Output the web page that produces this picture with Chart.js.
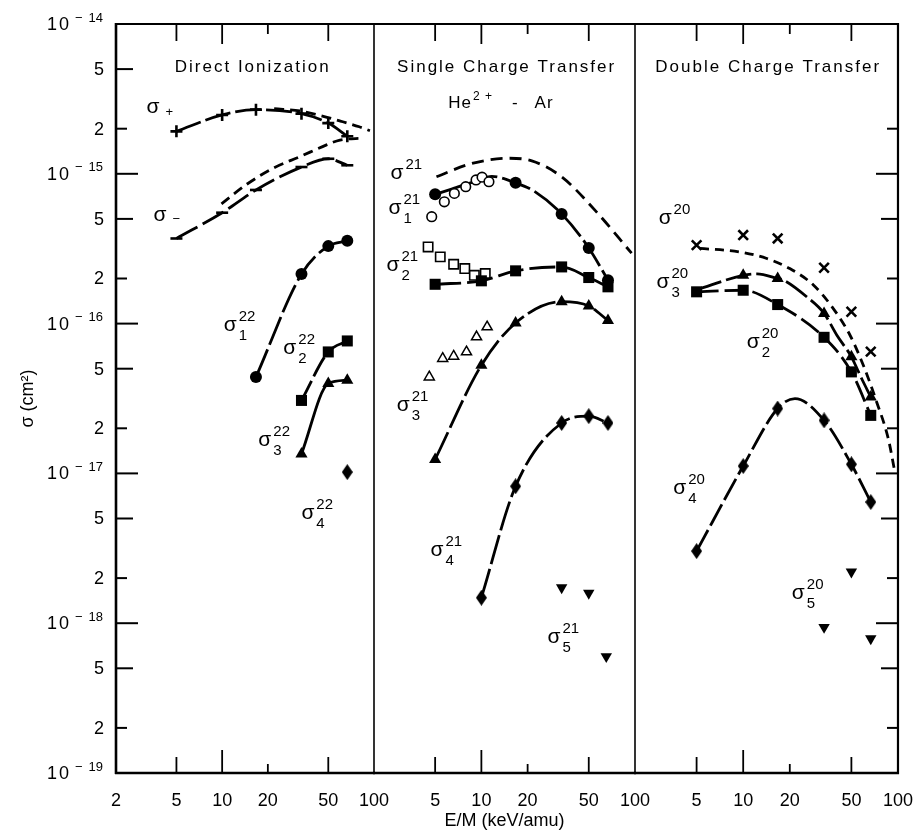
<!DOCTYPE html>
<html><head><meta charset="utf-8">
<script src="https://cdn.jsdelivr.net/npm/chart.js@4.4.1/dist/chart.umd.min.js"></script>
<style>
html,body{margin:0;padding:0;background:#fff;}
#wrap{position:relative;width:922px;height:831px;overflow:hidden;background:#fff;}
canvas{position:absolute;left:0;top:0;}
</style></head><body>
<div id="wrap">
<canvas id="p1" width="922" height="831"></canvas>
<canvas id="p2" width="922" height="831"></canvas>
<canvas id="p3" width="922" height="831"></canvas>
</div>
<script>
// ================= DATA =================
const xTicksPanel1 = [2, 5, 10, 20, 50, 100];
const xTicksPanel23 = [5, 10, 20, 50, 100];
const xTickMarkValues = [5, 10, 20, 50];
const yTickValues = [1e-19,2e-19,5e-19,1e-18,2e-18,5e-18,1e-17,2e-17,5e-17,1e-16,2e-16,5e-16,1e-15,2e-15,5e-15,1e-14];
const yTickLabels = ['10^-19','2','5','10^-18','2','5','10^-17','2','5','10^-16','2','5','10^-15','2','5','10^-14'];
const panelTitles = ['Direct Ionization', 'Single Charge Transfer', 'Double Charge Transfer'];

const energies = [5, 10, 16.7, 33.3, 50, 66.7];

// Panel 1 : direct ionization
const sigmaPlus = [1.92e-15, 2.47e-15, 2.68e-15, 2.52e-15, 2.18e-15, 1.78e-15];
const sigmaPlusTheoryE = [22, 33, 45, 60, 80, 94];
const sigmaPlusTheory = [2.72e-15, 2.62e-15, 2.44e-15, 2.25e-15, 2.06e-15, 1.94e-15];
const sigmaMinus = [3.7e-16, 5.5e-16, 7.8e-16, 1.11e-15, 1.26e-15, 1.14e-15];
const sigmaMinusTheoryE = [9.9, 14.5, 21.7, 32.5, 48.7, 59.7, 85];
const sigmaMinusTheory = [6.3e-16, 8.5e-16, 1.09e-15, 1.3e-15, 1.56e-15, 1.68e-15, 1.73e-15];
const s22E1 = [16.7, 33.3, 50, 66.7];
const s22_1 = [4.4e-17, 2.14e-16, 3.29e-16, 3.57e-16];
const s22E23 = [33.3, 50, 66.7];
const s22_2 = [3.07e-17, 6.47e-17, 7.66e-17];
const s22_3 = [1.35e-17, 3.98e-17, 4.19e-17];
const s22E4 = [66.7];
const s22_4 = [1.02e-17];

// Panel 2 : single charge transfer
const s21TotalE = [5.1, 8.6, 15, 21.3, 33.3, 55, 95];
const s21Total = [9.55e-16, 1.17e-15, 1.27e-15, 1.22e-15, 9.55e-16, 5.7e-16, 2.95e-16];
const s21E1 = [5, 16.7, 33.3, 50, 66.7];
const s21_1 = [7.3e-16, 8.7e-16, 5.4e-16, 3.2e-16, 1.95e-16];
const s21CurveE1 = [5, 6.4, 9.1, 11.7, 16.7, 22.3, 33.3, 50, 66.7];
const s21Curve1 = [7.3e-16, 7.9e-16, 8.9e-16, 9.6e-16, 8.7e-16, 7.6e-16, 5.4e-16, 3.2e-16, 1.95e-16];
const s21OpenE1 = [4.75, 5.74, 6.67, 7.91, 9.23, 10.1, 11.2];
const s21Open1 = [5.17e-16, 6.5e-16, 7.4e-16, 8.2e-16, 9.1e-16, 9.5e-16, 8.85e-16];
const s21_2 = [1.83e-16, 1.93e-16, 2.25e-16, 2.39e-16, 2.03e-16, 1.76e-16];
const s21OpenE2 = [4.5, 5.4, 6.6, 7.8, 9.0, 10.6];
const s21Open2 = [3.25e-16, 2.79e-16, 2.49e-16, 2.33e-16, 2.1e-16, 2.16e-16];
const s21_3 = [1.24e-17, 5.27e-17, 1.01e-16, 1.40e-16, 1.31e-16, 1.05e-16];
const s21OpenE3 = [4.58, 5.6, 6.6, 8.0, 9.3, 10.9];
const s21Open3 = [4.4e-17, 5.85e-17, 6.05e-17, 6.47e-17, 8.15e-17, 9.5e-17];
const s21E4 = [10, 16.7, 33.3, 50, 66.7];
const s21_4 = [1.48e-18, 8.2e-18, 2.17e-17, 2.41e-17, 2.17e-17];
const s21E5 = [33.3, 50, 65];
const s21_5 = [1.73e-18, 1.59e-18, 6.0e-19];

// Panel 3 : double charge transfer
const s20Total = [3.34e-16, 3.9e-16, 3.7e-16, 2.36e-16, 1.2e-16, 6.5e-17];
const s20TotalCurveE = [5.26, 9.5, 14.2, 20, 28.4, 38.2, 49, 59.7, 72.8, 86.5, 95.5];
const s20TotalCurve = [3.18e-16, 3.01e-16, 2.72e-16, 2.33e-16, 1.81e-16, 1.26e-16, 8.36e-17, 5.27e-17, 3.0e-17, 1.71e-17, 1.02e-17];
const s20E3 = [10, 16.7, 33.3, 50, 66.7];
const s20_3 = [2.1e-16, 2.0e-16, 1.17e-16, 6.0e-17, 3.24e-17];
const s20CurveE3 = [5, 10, 12.3, 16.7, 18.2, 25.7, 33.3, 40.2, 50, 58.2, 66.7];
const s20Curve3 = [1.68e-16, 2.1e-16, 2.15e-16, 2.0e-16, 1.95e-16, 1.51e-16, 1.17e-16, 8.4e-17, 6.0e-17, 4.3e-17, 3.24e-17];
const s20_2 = [1.63e-16, 1.67e-16, 1.34e-16, 8.1e-17, 4.76e-17, 2.44e-17];
const s20_4 = [3.03e-18, 1.12e-17, 2.71e-17, 2.26e-17, 1.15e-17, 6.44e-18];
const s20CurveE4 = [5, 10, 16.7, 21.6, 33.3, 50, 66.7];
const s20Curve4 = [3.03e-18, 1.12e-17, 2.71e-17, 3.16e-17, 2.26e-17, 1.15e-17, 6.44e-18];
const s20E5 = [33.3, 50, 66.7];
const s20_5 = [9.4e-19, 2.2e-18, 7.9e-19];

// curve labels (anchored in data space: E, sigma)
const labels1 = [
  {e:3.51, v:2.75e-15, pm:'+'}, {e:3.9, v:5.3e-16, pm:'−'},
  {e:11.3, v:9.76e-17, sup:'22', sub:'1'}, {e:27.9, v:6.85e-17, sup:'22', sub:'2'},
  {e:19.1, v:1.66e-17, sup:'22', sub:'3'}, {e:36.7, v:5.41e-18, sup:'22', sub:'4'}
];
const labels2 = [
  {e:2.82, v:1.01e-15, sup:'21'}, {e:2.74, v:5.9e-16, sup:'21', sub:'1'},
  {e:2.66, v:2.46e-16, sup:'21', sub:'2'}, {e:3.1, v:2.85e-17, sup:'21', sub:'3'},
  {e:5.14, v:3.06e-18, sup:'21', sub:'4'}, {e:29.7, v:8.07e-19, sup:'21', sub:'5'}
];
const labels3 = [
  {e:3.13, v:5.06e-16, sup:'20'}, {e:3.03, v:1.89e-16, sup:'20', sub:'3'},
  {e:11.6, v:7.51e-17, sup:'20', sub:'2'}, {e:3.89, v:7.95e-18, sup:'20', sub:'4'},
  {e:22.7, v:1.58e-18, sup:'20', sub:'5'}
];
const titleAnchors = [{e:15.9, v:5.1e-15}, {e:14.6, v:5.1e-15}, {e:14.5, v:5.1e-15}];
const subTitleAnchor = {e:13.4, v:2.97e-15};

// ================= STYLE / HELPERS =================
const FONT = '"Liberation Sans", Arial, sans-serif';
const INK = '#000';
const pts = (xs, ys) => xs.map((x, i) => ({x: x, y: ys[i]}));

function makeDiamond(w, h) {
  const c = document.createElement('canvas'); c.width = w; c.height = h;
  const g = c.getContext('2d'); g.fillStyle = INK; g.beginPath();
  g.moveTo(w/2, 0); g.lineTo(w, h/2); g.lineTo(w/2, h); g.lineTo(0, h/2); g.closePath(); g.fill();
  return c;
}
const diamond = makeDiamond(11, 16);

function curve(xs, ys, dash, width) {
  return {data: pts(xs, ys), showLine: true, pointRadius: 0, borderColor: INK, backgroundColor: INK,
    borderWidth: width || 2.8, borderDash: dash, cubicInterpolationMode: 'monotone', fill: false, order: 5};
}
const MK = {
  fcircle: {pointStyle:'circle', pointRadius:6, pointBackgroundColor:INK, pointBorderWidth:0},
  ocircle: {pointStyle:'circle', pointRadius:4.8, pointBackgroundColor:'#fff', pointBorderWidth:1.6},
  fsquare: {pointStyle:'rect', pointRadius:7.8, pointBackgroundColor:INK, pointBorderWidth:0},
  osquare: {pointStyle:'rect', pointRadius:6.6, pointBackgroundColor:'#fff', pointBorderWidth:1.6},
  ftri: {pointStyle:'triangle', pointRadius:7, pointBackgroundColor:INK, pointBorderWidth:0},
  otri: {pointStyle:'triangle', pointRadius:5.8, pointBackgroundColor:'#fff', pointBorderWidth:1.5},
  dtri: {pointStyle:'triangle', pointRadius:6.6, pointRotation:180, pointBackgroundColor:INK, pointBorderWidth:0},
  diam: {pointStyle:diamond, pointRadius:8},
  plus: {pointStyle:'cross', pointRadius:6, pointBorderWidth:2.6},
  xmark: {pointStyle:'crossRot', pointRadius:6.8, pointBorderWidth:2.6},
  dash: {pointStyle:'line', pointRadius:6, pointBorderWidth:2.6}
};
function marks(xs, ys, kind) {
  return Object.assign({data: pts(xs, ys), showLine: false, pointBorderColor: INK, order: 1}, MK[kind]);
}

// ================= PLUGINS =================
const framePlugin = {
  id: 'frame',
  afterDraw(chart, args, o) {
    const {ctx, chartArea: a, scales: {x, y}} = chart;
    ctx.save();
    ctx.strokeStyle = INK; ctx.lineCap = 'butt';
    const seg = (x1, y1, x2, y2, w) => { ctx.lineWidth = w; ctx.beginPath(); ctx.moveTo(x1, y1); ctx.lineTo(x2, y2); ctx.stroke(); };
    seg(a.left - 1, a.top, a.right + 1, a.top, 2);
    seg(a.left - 1, a.bottom, a.right + 1, a.bottom, 2.6);
    if (o.leftW) seg(a.left, a.top - 1, a.left, a.bottom + 1, o.leftW);
    if (o.rightW) seg(a.right, a.top - 1, a.right, a.bottom + 1, o.rightW);
    const botLen = {5:16, 10:23, 20:9, 50:16}, topLen = {5:17, 10:20, 20:10, 50:17};
    xTickMarkValues.forEach(v => {
      const px = x.getPixelForValue(v);
      seg(px, a.bottom, px, a.bottom - botLen[v], 1.8);
      seg(px, a.top, px, a.top + topLen[v], 1.8);
    });
    const yLen = v => { const m = Math.round(v / Math.pow(10, Math.floor(Math.log10(v) + 1e-9))); return m === 1 ? 22 : (m === 5 ? 17 : 11); };
    yTickValues.forEach(v => {
      const py = y.getPixelForValue(v);
      if (o.yLeft) seg(a.left, py, a.left + yLen(v), py, 2);
      if (o.yRight && v <= 2.1e-15) seg(a.right, py, a.right - yLen(v), py, 2);
    });
    ctx.restore();
  }
};

function drawSigma(ctx, px, py, lab) {
  ctx.textAlign = 'left'; ctx.textBaseline = 'alphabetic'; ctx.fillStyle = INK;
  ctx.font = '21px ' + FONT;
  const w = ctx.measureText('σ').width;
  const x0 = px - w / 2;
  ctx.fillText('σ', x0, py + 5.5);
  if (lab.pm) { ctx.font = '13px ' + FONT; ctx.fillText(lab.pm, x0 + w + 6, py + 8); return; }
  ctx.font = '15px ' + FONT;
  if (lab.sup) ctx.fillText(lab.sup, x0 + w + 2, py - 4);
  if (lab.sub) ctx.fillText(lab.sub, x0 + w + 2, py + 15);
}

const textPlugin = {
  id: 'panelText',
  afterDraw(chart, args, o) {
    const {ctx, chartArea: a, scales: {x, y}} = chart;
    ctx.save();
    ctx.fillStyle = INK;
    // panel title
    const t = titleAnchors[o.idx];
    ctx.font = '17px ' + FONT; ctx.textAlign = 'center'; ctx.textBaseline = 'middle';
    try { ctx.letterSpacing = '2px'; } catch (e) {}
    ctx.fillText(panelTitles[o.idx], x.getPixelForValue(t.e), y.getPixelForValue(t.v));
    if (o.idx === 1) {
      const cx = x.getPixelForValue(subTitleAnchor.e), cy = y.getPixelForValue(subTitleAnchor.v);
      try { ctx.letterSpacing = '1px'; } catch (e) {}
      ctx.font = '17px ' + FONT; const wHe = ctx.measureText('He').width;
      const wAr = ctx.measureText('Ar').width, wMi = ctx.measureText('-').width;
      ctx.font = '12px ' + FONT; const wSup = ctx.measureText('2 +').width;
      const total = wHe + 1 + wSup + 19 + wMi + 16 + wAr;
      let cur = cx - total / 2;
      ctx.textAlign = 'left';
      ctx.font = '17px ' + FONT; ctx.fillText('He', cur, cy); cur += wHe + 1;
      ctx.font = '12px ' + FONT; ctx.fillText('2 +', cur, cy - 6); cur += wSup + 19;
      ctx.font = '17px ' + FONT; ctx.fillText('-', cur, cy); cur += wMi + 16;
      ctx.fillText('Ar', cur, cy);
    }
    try { ctx.letterSpacing = '0px'; } catch (e) {}
    // curve labels
    o.labels.forEach(l => drawSigma(ctx, x.getPixelForValue(l.e), y.getPixelForValue(l.v), l));
    // y tick labels (first panel only)
    if (o.yLabels) {
      const right = a.left - 13;
      ctx.textAlign = 'right'; ctx.textBaseline = 'middle';
      yTickValues.forEach((v, i) => {
        const py = y.getPixelForValue(v);
        const lab = yTickLabels[i];
        if (lab.indexOf('10^') === 0) {
          const ex = lab.slice(4);
          ctx.font = '13px ' + FONT;
          const wd = ctx.measureText(ex).width, wm = ctx.measureText('−').width;
          ctx.fillText(ex, right, py - 6);
          const mr = right - wd - 6;
          ctx.fillText('−', mr, py - 6);
          ctx.font = '18px ' + FONT;
          try { ctx.letterSpacing = '2px'; } catch (e) {}
          ctx.fillText('10', mr - wm - 4, py + 1);
          try { ctx.letterSpacing = '0px'; } catch (e) {}
        } else {
          ctx.font = '18px ' + FONT;
          ctx.fillText(lab, right + 1, py + 1);
        }
      });
    }
    ctx.restore();
  }
};

// ================= CHARTS =================
function makeChart(id, cfg) {
  return new Chart(document.getElementById(id), {
    type: 'scatter',
    data: {datasets: cfg.datasets},
    options: {
      responsive: false, animation: false, devicePixelRatio: 1,
      layout: {padding: {left: cfg.padL, right: cfg.padR, top: 24, bottom: 0}},
      plugins: {legend: {display: false}, tooltip: {enabled: false},
        frame: cfg.frame, panelText: cfg.text},
      scales: {
        x: {type: 'logarithmic', position: 'bottom', min: 2, max: 100,
          grid: {display: false}, border: {display: false},
          afterBuildTicks: s => { s.ticks = cfg.xTicks.map(v => ({value: v})); },
          afterFit: s => { s.height = 58; },
          ticks: {autoSkip: false, maxRotation: 0, minRotation: 0, padding: 9, color: INK,
            font: {family: FONT, size: 18}, callback: v => String(v)},
          title: {display: !!cfg.xTitle, text: 'E/M (keV/amu)', color: INK,
            font: {family: FONT, size: 18}, padding: {top: 0, bottom: -1}}
        },
        y: {type: 'logarithmic', position: 'left', min: 1e-19, max: 1e-14, display: !!cfg.showY,
          grid: {display: false}, border: {display: false},
          ticks: {display: false},
          afterFit: s => { s.width = cfg.showY ? 116 : 0; },
          title: {display: !!cfg.showY, text: 'σ (cm²)', color: INK,
            font: {family: FONT, size: 18}, padding: {top: 17, bottom: 0}}
        }
      }
    },
    plugins: [framePlugin, textPlugin]
  });
}

makeChart('p1', {
  padL: 0, padR: 922 - 374, showY: true, xTicks: xTicksPanel1,
  frame: {leftW: 2.6, rightW: 1.6, yLeft: true},
  text: {idx: 0, labels: labels1, yLabels: true},
  datasets: [
    marks(energies, sigmaPlus, 'plus'),
    marks(energies, sigmaMinus, 'dash'),
    marks(s22E1, s22_1, 'fcircle'),
    marks(s22E23, s22_2, 'fsquare'),
    marks(s22E23, s22_3, 'ftri'),
    marks(s22E4, s22_4, 'diam'),
    curve(energies, sigmaPlus, [26, 5]),
    curve(sigmaPlusTheoryE, sigmaPlusTheory, [10, 6]),
    curve(energies, sigmaMinus, [24, 6]),
    curve(sigmaMinusTheoryE, sigmaMinusTheory, [10, 6]),
    curve(s22E1, s22_1, [30, 5]),
    curve(s22E23, s22_2, [22, 5]),
    curve(s22E23, s22_3, [])
  ]
});

makeChart('p2', {
  padL: 374, padR: 922 - 635, showY: false, xTicks: xTicksPanel23, xTitle: true,
  frame: {rightW: 1.6},
  text: {idx: 1, labels: labels2},
  datasets: [
    marks(s21E1, s21_1, 'fcircle'),
    marks(s21OpenE1, s21Open1, 'ocircle'),
    marks(energies, s21_2, 'fsquare'),
    marks(s21OpenE2, s21Open2, 'osquare'),
    marks(energies, s21_3, 'ftri'),
    marks(s21OpenE3, s21Open3, 'otri'),
    marks(s21E4, s21_4, 'diam'),
    marks(s21E5, s21_5, 'dtri'),
    curve(s21TotalE, s21Total, [12, 7]),
    curve(s21CurveE1, s21Curve1, [30, 5]),
    curve(energies, s21_2, [26, 6]),
    curve(energies, s21_3, [30, 5]),
    curve(s21E4, s21_4, [30, 5])
  ]
});

makeChart('p3', {
  padL: 635, padR: 922 - 898, showY: false, xTicks: xTicksPanel23,
  frame: {rightW: 2.2, yRight: true},
  text: {idx: 2, labels: labels3},
  datasets: [
    marks(energies, s20Total, 'xmark'),
    marks(s20E3, s20_3, 'ftri'),
    marks(energies, s20_2, 'fsquare'),
    marks(energies, s20_4, 'diam'),
    marks(s20E5, s20_5, 'dtri'),
    curve(s20TotalCurveE, s20TotalCurve, [9, 6]),
    curve(s20CurveE3, s20Curve3, [26, 5]),
    curve(energies, s20_2, [22, 6]),
    curve(s20CurveE4, s20Curve4, [24, 5])
  ]
});
</script>
</body></html>
